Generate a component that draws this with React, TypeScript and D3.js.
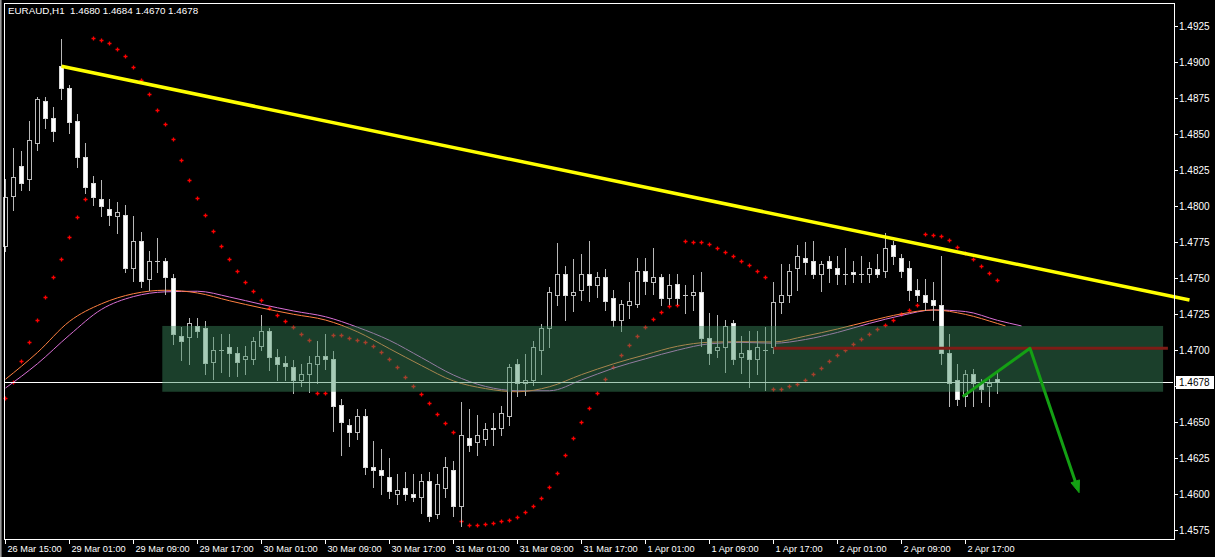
import React from "react";
import * as d3 from "d3";

const symbol = "EURAUD";
const timeframe = "H1";

const opens = [1.4772,1.4807,1.4828,1.4819,1.4844,1.4873,1.4861,1.4897,1.4882,1.4859,1.4834,1.4816,1.4805,1.4798,1.4793,1.4794,1.4757,1.4776,1.4749,1.4762,1.4762,1.4750,1.4710,1.4709,1.4717,1.4715,1.4692,1.4700,1.4702,1.4698,1.4694,1.4694,1.4703,1.4713,1.4695,1.4691,1.4688,1.4679,1.4683,1.4690,1.4696,1.4694,1.4662,1.4648,1.4643,1.4654,1.4619,1.4617,1.4612,1.4600,1.4604,1.4600,1.4598,1.4609,1.4586,1.4604,1.4617,1.4592,1.4639,1.4636,1.4638,1.4646,1.4646,1.4654,1.4690,1.4677,1.4679,1.4700,1.4715,1.4738,1.4753,1.4738,1.4742,1.4753,1.4745,1.4751,1.4736,1.4721,1.4731,1.4732,1.4755,1.4747,1.4751,1.4736,1.4746,1.4738,1.4738,1.4740,1.4708,1.4700,1.4702,1.4719,1.4695,1.4700,1.4694,1.4700,1.4702,1.4733,1.4738,1.4757,1.4764,1.4762,1.4753,1.4762,1.4757,1.4753,1.4754,1.4753,1.4753,1.4756,1.4755,1.4773,1.4764,1.4757,1.4742,1.4738,1.4735,1.4731,1.4698,1.4679,1.4668,1.4683,1.4677,1.4675,1.4680];
const highs = [1.4819,1.4840,1.4838,1.4859,1.4876,1.4876,1.4869,1.4916,1.4884,1.4864,1.4844,1.4821,1.4818,1.4805,1.4803,1.4801,1.4793,1.4782,1.4769,1.4778,1.4764,1.4753,1.4716,1.4722,1.4722,1.4720,1.4709,1.4711,1.4711,1.4702,1.4703,1.4709,1.4724,1.4715,1.4701,1.4696,1.4693,1.4690,1.4696,1.4706,1.4711,1.4699,1.4666,1.4652,1.4659,1.4659,1.4637,1.4631,1.4625,1.4614,1.4615,1.4614,1.4614,1.4615,1.4614,1.4626,1.4623,1.4664,1.4659,1.4655,1.4649,1.4656,1.4661,1.4690,1.4694,1.4697,1.4706,1.4718,1.4744,1.4774,1.4758,1.4763,1.4767,1.4776,1.4754,1.4756,1.4742,1.4735,1.4747,1.4764,1.4764,1.4771,1.4753,1.4753,1.4753,1.4745,1.4752,1.4754,1.4726,1.4724,1.4721,1.4721,1.4710,1.4713,1.4713,1.4716,1.4747,1.4760,1.4760,1.4773,1.4775,1.4776,1.4762,1.4765,1.4765,1.4771,1.4762,1.4765,1.4761,1.4767,1.4781,1.4776,1.4767,1.4762,1.4749,1.4749,1.4747,1.4765,1.4711,1.4690,1.4686,1.4687,1.4680,1.4682,1.4684];
const lows = [1.4769,1.4797,1.4811,1.4811,1.4839,1.4854,1.4845,1.4874,1.4851,1.4827,1.4809,1.4801,1.4793,1.4787,1.4781,1.4754,1.4748,1.4744,1.4742,1.4754,1.4739,1.4704,1.4693,1.4690,1.4709,1.4683,1.4680,1.4685,1.4682,1.4682,1.4683,1.4690,1.4700,1.4686,1.4679,1.4679,1.4670,1.4675,1.4671,1.4677,1.4687,1.4644,1.4627,1.4633,1.4638,1.4614,1.4605,1.4600,1.4597,1.4593,1.4596,1.4595,1.4587,1.4581,1.4583,1.4598,1.4585,1.4578,1.4630,1.4627,1.4634,1.4634,1.4641,1.4648,1.4668,1.4669,1.4676,1.4683,1.4702,1.4731,1.4721,1.4727,1.4735,1.4734,1.4737,1.4728,1.4717,1.4713,1.4722,1.4730,1.4739,1.4739,1.4731,1.4732,1.4732,1.4726,1.4728,1.4703,1.4690,1.4695,1.4685,1.4690,1.4684,1.4674,1.4683,1.4672,1.4698,1.4726,1.4733,1.4742,1.4753,1.4750,1.4741,1.4747,1.4746,1.4746,1.4747,1.4747,1.4747,1.4751,1.4751,1.4760,1.4751,1.4735,1.4734,1.4728,1.4721,1.4690,1.4661,1.4662,1.4661,1.4661,1.4664,1.4661,1.4670];
const closes = [1.4806,1.4820,1.4816,1.4846,1.4874,1.4861,1.4852,1.4882,1.4858,1.4834,1.4813,1.4806,1.4800,1.4794,1.4796,1.4757,1.4776,1.4748,1.4762,1.4762,1.4751,1.4711,1.4706,1.4719,1.4713,1.4691,1.4700,1.4700,1.4698,1.4692,1.4696,1.4706,1.4713,1.4695,1.4690,1.4689,1.4679,1.4683,1.4691,1.4696,1.4694,1.4661,1.4650,1.4643,1.4654,1.4619,1.4617,1.4613,1.4602,1.4603,1.4600,1.4598,1.4609,1.4585,1.4607,1.4619,1.4592,1.4641,1.4634,1.4641,1.4645,1.4645,1.4656,1.4688,1.4677,1.4679,1.4702,1.4715,1.4740,1.4753,1.4738,1.4740,1.4753,1.4745,1.4751,1.4734,1.4721,1.4732,1.4734,1.4755,1.4748,1.4751,1.4736,1.4745,1.4736,1.4738,1.4740,1.4708,1.4698,1.4702,1.4717,1.4694,1.4698,1.4694,1.4702,1.4700,1.4733,1.4738,1.4755,1.4765,1.4761,1.4753,1.4760,1.4757,1.4753,1.4753,1.4753,1.4753,1.4757,1.4753,1.4771,1.4765,1.4755,1.4742,1.4738,1.4733,1.4731,1.4698,1.4677,1.4666,1.4683,1.4677,1.4673,1.4677,1.4678];

const sar = [1.46665,1.46776,1.46922,1.47054,1.47206,1.47366,1.47505,1.47630,1.47783,1.47922,1.48047,
  1.49165,1.49151,1.49130,1.49088,1.49040,1.48963,1.48873,1.48776,1.48665,1.48567,1.48463,
  1.48317,1.48179,1.48053,1.47935,1.47824,1.47720,1.47630,1.47547,1.47470,1.47408,1.47345,1.47290,1.47241,1.47199,1.47158,1.47109,1.47067,
  1.46699,1.46699,
  1.47102,1.47102,1.47081,1.47067,1.47054,1.47026,1.46984,1.46935,1.46880,1.46810,1.46748,1.46692,1.46630,1.46553,1.46491,1.46428,
  1.45810,1.45783,1.45783,1.45790,1.45797,1.45810,1.45817,1.45838,1.45873,1.45915,1.45970,1.46047,1.46144,1.46269,1.46387,1.46498,1.46595,1.46699,1.46797,1.46880,1.46963,1.47033,1.47095,1.47158,1.47213,1.47262,1.47303,1.47310,
  1.47755,1.47748,1.47748,1.47734,1.47706,1.47678,1.47651,1.47616,1.47588,1.47547,1.47505,
  1.46727,1.46727,1.46748,1.46762,1.46790,1.46831,1.46873,1.46922,1.46963,1.46998,1.47040,1.47074,1.47109,1.47144,1.47172,1.47208,1.47248,1.47276,1.47310,
  1.47803,1.47797,1.47790,1.47762,1.47713,1.47672,1.47630,1.47581,1.47533,1.47484];

const fastIdx = [0,4,8,12,16,20,24,28,32,36,40,44,48,52,56,60,64,68,72,76,80,84,88,92,96,100,104,108,112,116,120,124,125];
const fastMA = [1.46797,1.46983,1.47199,1.47321,1.47391,1.47415,1.47396,1.47342,1.47292,1.47248,1.47208,1.47126,1.47009,1.46892,1.46785,1.46732,1.46710,1.46745,1.46829,1.46904,1.46967,1.47026,1.47054,1.47058,1.47056,1.47097,1.47146,1.47201,1.47251,1.47278,1.47247,1.47184,1.47167];
const slowIdx = [0,4,8,12,16,20,24,28,32,36,40,44,48,52,56,60,64,68,72,76,80,84,88,92,96,100,104,108,112,116,120,124,127];
const slowMA = [1.46736,1.46905,1.47104,1.47282,1.47371,1.47404,1.47408,1.47368,1.47317,1.47271,1.47231,1.47158,1.47067,1.46947,1.46826,1.46747,1.46717,1.46717,1.46792,1.46874,1.46939,1.46999,1.47043,1.47053,1.47047,1.47073,1.47122,1.47185,1.47240,1.47278,1.47267,1.47206,1.47167];

const priceTicks = [1.4925,1.4900,1.4875,1.4850,1.4825,1.4800,1.4775,1.4750,1.4725,1.4700,1.4675,1.4650,1.4625,1.4600,1.4575];
const timeTickIdx = [0,8,16,24,32,40,48,56,64,72,80,88,96,104,112,120];
const timeTickLabels = ["26 Mar 15:00","29 Mar 01:00","29 Mar 09:00","29 Mar 17:00","30 Mar 01:00","30 Mar 09:00","30 Mar 17:00","31 Mar 01:00","31 Mar 09:00","31 Mar 17:00","1 Apr 01:00","1 Apr 09:00","1 Apr 17:00","2 Apr 01:00","2 Apr 09:00","2 Apr 17:00"];

// drawn objects (bar index, price)
const trendIdx = [7, 148];
const trendPrice = [1.4897, 1.47347];
const zoneIdx = [19.6, 144.7];
const zonePrice = [1.47167, 1.4671];
const levelIdx = [96, 145.3];
const levelPrice = [1.47012, 1.47012];
const arrowIdx = [119.65, 128.06, 134.2];
const arrowPrice = [1.46676, 1.47012, 1.46009];

const W = 1215, H = 557;
const plotL = 4, plotR = 1174, plotT = 3, plotB = 539;

export default function App() {
  const x = d3.scaleLinear().domain([0, 124]).range([5.5, 997.5]);
  const y = d3.scaleLinear().domain([1.4575, 1.4925]).range([530, 26]);
  const n = closes.length;
  const last = n - 1;
  const curPrice = closes[last];
  const yc = Math.round(y(curPrice)) + 0.5;

  const lineGen = d3.line<[number, number]>().x(d => x(d[0])).y(d => y(d[1])).curve(d3.curveMonotoneX);
  const fastPath = lineGen(fastIdx.map((k, i) => [k, fastMA[i]] as [number, number])) || "";
  const slowPath = lineGen(slowIdx.map((k, i) => [k, slowMA[i]] as [number, number])) || "";

  const sarPath = sar.map((p, k) => {
    const cx = x(k);
    const cy = Math.round(y(p)) + 0.5;
    return `M${cx - 2},${cy}H${cx + 2}M${cx},${cy - 2}V${cy + 2}`;
  }).join("");

  const candles = d3.range(n).map(k => {
    const cx = x(k);
    const o = opens[k], c = closes[k];
    const yTop = Math.round(y(Math.max(o, c)));
    const yBot = Math.round(y(Math.min(o, c)));
    const yh = Math.round(y(highs[k]));
    const yl = Math.round(y(lows[k]));
    const bull = c > o;
    const h = yBot - yTop;
    return (
      <g key={k}>
        <line x1={cx} x2={cx} y1={yh} y2={yl + 1} stroke="#b8b8b8" strokeWidth={1} />
        {h <= 0 ? (
          <line x1={cx - 2.5} x2={cx + 2.5} y1={yTop + 0.5} y2={yTop + 0.5} stroke="#c8c8c8" strokeWidth={1} />
        ) : (
          <rect x={cx - 2} y={yTop + 0.5} width={4} height={h} fill={bull ? "#000000" : "#ffffff"} stroke={bull ? "#bdbdbd" : "#d8d8d8"} strokeWidth={1} />
        )}
      </g>
    );
  });

  // arrow
  const ax = arrowIdx.map(k => x(k));
  const ay = arrowPrice.map(p => y(p));
  const dx = ax[2] - ax[1], dy = ay[2] - ay[1];
  const len = Math.hypot(dx, dy);
  const ux = dx / len, uy = dy / len;
  const headLen = 12, headW = 4.5;
  const bx = ax[2] - ux * headLen, by = ay[2] - uy * headLen;
  const head = `M${ax[2]},${ay[2]}L${bx - uy * headW},${by + ux * headW}L${bx + uy * headW},${by - ux * headW}Z`;
  const shaft = `M${ax[0]},${ay[0]}L${ax[1]},${ay[1]}L${bx + ux * 2},${by + uy * 2}`;

  const font = "'Liberation Sans', Arial, sans-serif";
  const title = `${symbol},${timeframe}  ${opens[last].toFixed(4)} ${highs[last].toFixed(4)} ${lows[last].toFixed(4)} ${closes[last].toFixed(4)}`;

  return (
    <div style={{ position: "absolute", left: 0, top: 0, width: W, height: H }}>
      <svg width={W} height={H} style={{ display: "block", background: "#000" }} fontFamily={font}>
        <rect x={0} y={0} width={W} height={H} fill="#000" />
        {/* outer window border */}
        <line x1={0.5} x2={0.5} y1={0} y2={H} stroke="#9a9a9a" />
        <line x1={1.5} x2={1.5} y1={0} y2={H} stroke="#5a5a5a" />

        {/* indicators */}
        <path d={sarPath} stroke="#ff0000" strokeWidth={1.3} fill="none" />
        <path d={slowPath} stroke="#da70d6" strokeWidth={1} fill="none" />
        <path d={fastPath} stroke="#ff8040" strokeWidth={1} fill="none" />

        {/* candles */}
        {candles}

        {/* current price line */}
        <line x1={plotL} x2={plotR - 1} y1={yc} y2={yc} stroke="#ffffff" strokeWidth={1} />

        {/* zone rectangle */}
        <rect
          x={x(zoneIdx[0])}
          y={y(zonePrice[0])}
          width={x(zoneIdx[1]) - x(zoneIdx[0])}
          height={y(zonePrice[1]) - y(zonePrice[0])}
          fill="rgb(60,140,96)"
          fillOpacity={0.45}
        />

        {/* horizontal level */}
        <line x1={x(levelIdx[0])} x2={x(levelIdx[1])} y1={y(levelPrice[0])} y2={y(levelPrice[1])} stroke="#7d1c16" strokeWidth={3} />

        {/* trend line */}
        <line x1={x(trendIdx[0])} y1={y(trendPrice[0])} x2={x(trendIdx[1])} y2={y(trendPrice[1])} stroke="#ffff00" strokeWidth={3.5} />

        {/* arrow */}
        <path d={shaft} stroke="#14a014" strokeWidth={3} fill="none" strokeLinejoin="round" />
        <path d={head} fill="#14a014" stroke="#14a014" strokeWidth={1} />

        {/* frame */}
        <line x1={plotL + 0.5} x2={plotL + 0.5} y1={plotT} y2={plotB + 1} stroke="#ffffff" />
        <line x1={plotL} x2={plotR + 1} y1={plotT + 0.5} y2={plotT + 0.5} stroke="#ffffff" />
        <line x1={plotL} x2={plotR + 1} y1={plotB + 0.5} y2={plotB + 0.5} stroke="#ffffff" />
        <line x1={plotR + 0.5} x2={plotR + 0.5} y1={plotT} y2={plotB + 1} stroke="#ffffff" />

        {/* price axis */}
        {priceTicks.map(p => {
          const ty = Math.round(y(p)) + 0.5;
          const hidden = Math.abs(ty - yc) < 9;
          return (
            <g key={p}>
              <line x1={plotR} x2={plotR + 4} y1={ty} y2={ty} stroke="#ffffff" />
              {!hidden && <text x={plotR + 5} y={ty + 3.5} fill="#ffffff" fontSize={10}>{p.toFixed(4)}</text>}
            </g>
          );
        })}
        <rect x={plotR + 2} y={yc - 6.5} width={38} height={13} fill="#ffffff" />
        <text x={plotR + 5} y={yc + 3.5} fill="#000000" fontSize={10}>{curPrice.toFixed(4)}</text>

        {/* time axis */}
        {timeTickIdx.map((k, i) => {
          const tx = Math.floor(x(k)) + 0.5;
          return (
            <g key={k}>
              <line x1={tx} x2={tx} y1={plotB} y2={plotB + 5} stroke="#ffffff" />
              <text x={tx + 2} y={552} fill="#ffffff" fontSize={9.2}>{timeTickLabels[i]}</text>
            </g>
          );
        })}

        {/* title */}
        <text x={8} y={14} fill="#ffffff" fontSize={9.8} style={{ whiteSpace: "pre" }}>{title}</text>
      </svg>
    </div>
  );
}
